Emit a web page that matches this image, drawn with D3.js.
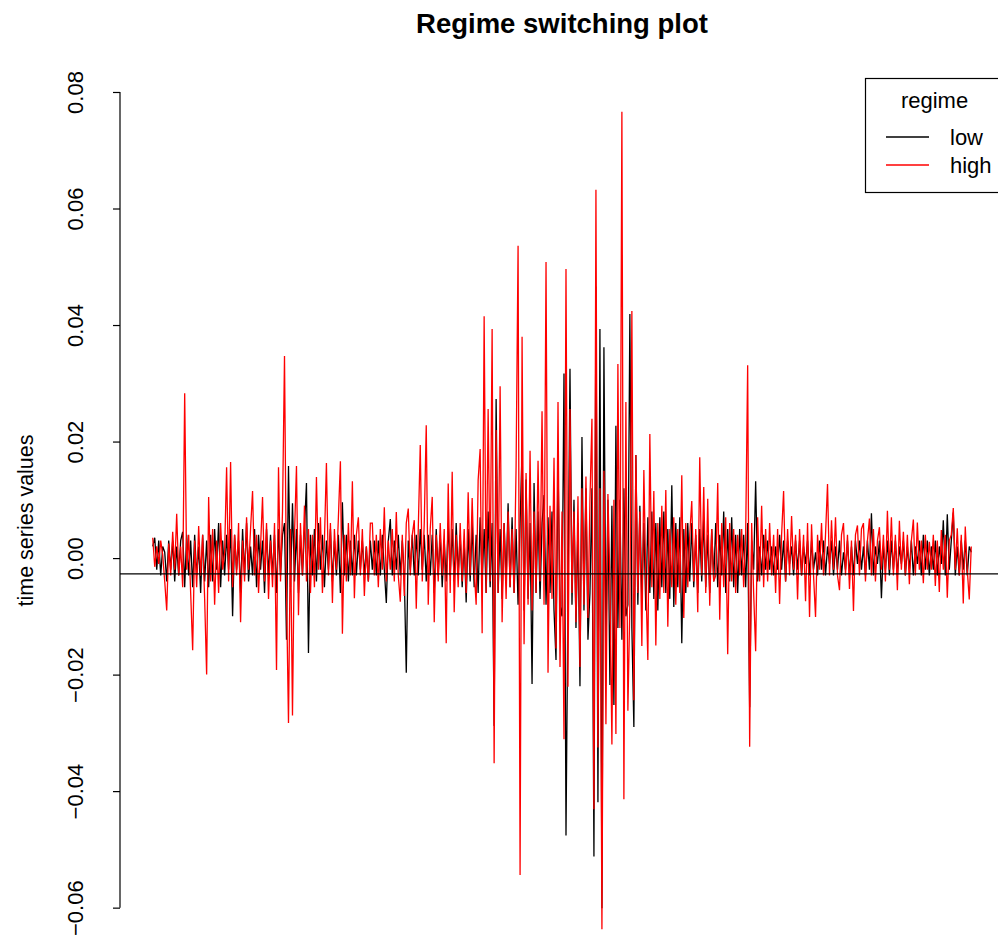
<!DOCTYPE html>
<html>
<head>
<meta charset="utf-8">
<script src="https://cdn.jsdelivr.net/npm/d3@7"></script>
<style>
  html, body { margin: 0; padding: 0; background: #fff; }
  svg { display: block; font-family: "Liberation Sans", Arial, Helvetica, sans-serif; }
</style>
</head>
<body>
<svg id="chart" width="998" height="940"></svg>
<script>
// ---- data ----
const titleText = "Regime switching plot";
const yLabel = "time series values";
const legendTitle = "regime";
const seriesNames = ["low", "high"];
const seriesColors = ["#000000", "#ff0000"];
const yTicks = [-0.06, -0.04, -0.02, 0.00, 0.02, 0.04, 0.06, 0.08];
const hLineValue = -0.0027;

// "high" regime series (red)
const high = [
 .0035,-.0015,.002,-.001,.003,.0005,-.004,-.009,.0025,-.003,
 .0045,-.002,.0076,-.003,.002,-.005,.0283,-.002,.004,-.006,
 -.0158,.003,-.005,.0055,-.003,.004,-.007,-.020,.0105,-.004,
 .005,-.008,.003,-.006,.006,-.002,.001,.0156,-.004,.0165,
 -.005,.004,-.003,.006,-.011,.003,-.004,.007,-.002,.005,
 .0115,-.003,.004,-.006,.002,.0105,-.004,.006,-.007,.003,
 -.005,.006,-.0192,.0156,-.004,.008,.0347,-.006,-.0283,.005,
 -.027,.004,.0158,-.0098,.006,-.003,.009,-.004,.005,-.006,
 .004,-.005,.0139,-.002,.007,-.006,.003,.0163,-.003,.006,
 -.0077,.005,-.002,.007,.0166,-.013,.004,-.004,.006,-.003,
 .0132,-.0069,.004,.007,-.003,.005,-.0065,.002,-.004,.006,
 .006,-.003,.004,-.005,.005,-.002,.0087,-.004,.003,-.002,
 .005,-.004,.0079,-.003,-.0075,.004,-.0065,.006,.0085,-.003,
 .004,.0065,-.0087,.005,.0194,-.004,.006,.0228,-.008,.005,
 .0105,-.011,.004,-.004,.006,-.003,.005,-.0146,.0128,-.006,
 .0148,-.0093,.004,-.005,.006,-.004,.005,-.006,.0113,-.003,
 .0103,-.002,-.008,.0134,.0187,-.0129,.0415,-.006,.0256,-.004,
 .0393,-.0352,.022,-.006,.0295,-.011,.006,-.007,.008,-.005,
 .005,-.006,.0156,.0536,-.0544,.038,-.0148,.0146,-.008,.0184,
 -.009,.008,-.006,.0167,-.004,.0252,-.008,.0508,-.0197,.009,
 -.007,.0172,-.0155,.0268,-.0187,.008,-.0311,.0496,-.0221,.0256,
 -.006,.008,-.011,.0106,-.0187,.012,-.008,.014,-.0103,.010,
 .0239,-.0431,.0632,-.0325,.012,-.0637,.015,-.0285,.011,-.004,
 -.032,.010,-.0302,.0333,-.012,.0766,-.0414,.0268,-.0262,-.008,
 .0424,-.0244,.0177,-.006,.008,-.0151,.0151,-.004,-.0175,.0213,
 -.005,.0115,-.015,.006,-.007,.009,-.006,.0117,-.0118,.005,
 -.005,.007,-.008,.005,-.006,.0142,-.0103,.006,-.005,.004,
 .0098,-.004,.005,-.0093,.0173,-.003,.0122,-.006,.0102,-.0082,
 .005,-.004,-.003,.0129,-.0106,.006,-.005,.007,-.0165,.006,
 -.004,.005,-.006,.004,-.003,.005,-.005,.004,.0331,-.0324,
 .006,-.006,-.016,.007,-.004,.009,-.005,.005,-.004,.006,
 -.003,.004,-.006,.005,-.0079,.004,.0115,-.004,.005,-.003,
 .0072,-.002,.004,-.0071,.005,-.003,.004,-.0074,.006,-.0101,
 .0058,-.003,-.0101,.004,-.002,.006,-.003,.004,.0127,-.003,
 .0065,-.002,.007,-.003,-.0055,.004,.006,-.003,.004,-.0053,
 .003,-.0091,.004,.0056,-.003,.005,.006,-.004,.003,.0068,
 -.003,.005,-.004,.003,.0053,-.002,.004,-.004,.0081,-.002,
 .007,-.003,.004,-.0055,.0064,-.002,.0045,-.003,.004,-.0045,
 .003,.0066,-.003,.0061,-.002,.003,-.0043,.004,-.002,.0028,
 -.002,.004,-.0048,.003,-.0058,.0048,-.002,.004,-.0068,.003,
 .004,.0086,-.002,.0051,-.003,.004,-.0078,.0054,-.002,-.0071,.002
];

// "low" regime series (black)
const low = [
 .002,.0035,-.002,.003,-.003,.002,.001,-.004,.003,-.002,
 .003,-.004,.002,-.003,.003,.0045,-.005,.004,-.003,.003,
 -.005,.004,-.003,.002,-.006,.004,-.004,.003,-.005,.004,
 -.004,.005,-.002,.006,-.005,.003,-.003,.004,-.002,.005,
 -.010,.004,-.002,.003,-.006,.005,-.003,.006,-.004,.002,
 -.003,.005,-.005,.004,-.002,.003,-.006,.005,-.003,.004,
 -.003,.004,-.006,.005,-.003,.004,.006,-.014,.0158,-.005,
 .0094,-.004,.005,-.006,.004,-.003,.005,.0129,-.0163,.004,
 -.003,.005,-.004,.006,-.002,.004,-.005,.003,-.002,.005,
 -.004,.003,-.003,.004,-.006,.0096,-.003,.004,-.004,.003,
 -.003,.004,-.003,.003,-.002,.003,-.003,.002,-.004,.003,
 -.002,.003,-.003,.003,-.003,.004,-.002,-.0077,.003,.0067,
 -.003,.003,-.002,.004,-.003,.003,-.003,-.0197,.003,-.002,
 .004,-.003,.004,-.003,.005,-.002,.004,-.004,.004,-.003,
 .004,-.006,.005,-.003,.004,-.005,.003,-.004,.006,-.003,
 .005,-.004,.006,-.003,.004,-.005,.003,-.0076,.005,-.004,
 .006,-.005,.004,-.006,.007,-.004,.005,-.006,.008,-.005,
 .006,-.0288,.0273,-.006,.005,-.007,.006,-.004,.0094,-.005,
 .007,-.006,.005,-.008,.006,.0184,-.009,.0135,-.007,.006,
 -.0216,.0129,-.006,.008,-.007,.006,.0108,-.008,.007,-.006,
 .008,-.009,-.0175,.0161,-.008,-.010,.0317,-.0476,-.006,.0325,
 -.008,.010,-.012,.006,-.022,.0208,-.009,.012,-.014,-.006,
 .012,-.0512,.0466,-.0419,.0393,-.0601,.0362,-.015,.010,-.0218,
 .009,-.0252,.0227,-.012,.010,-.014,.012,-.010,-.008,.0419,
 -.012,-.029,.0177,-.008,.009,-.007,.006,-.009,.007,-.006,
 .008,-.007,.006,-.009,.007,-.005,.008,-.006,.005,-.007,
 .0125,-.0084,.006,-.005,.007,-.0146,.005,-.006,.006,-.004,
 .006,-.005,.004,-.006,.005,-.004,.007,-.005,.004,-.006,
 .005,-.004,.006,-.005,.004,-.003,.008,-.006,.005,-.004,
 .007,-.005,.004,-.006,.005,-.003,.004,-.005,.006,-.0256,
 .003,-.002,.0132,-.004,.002,-.003,.004,-.002,.003,-.002,
 .002,-.003,.002,-.002,.004,-.002,.003,-.004,.003,-.001,
 .002,-.003,.003,-.002,.003,-.003,.002,-.001,.003,-.003,
 .003,-.002,.001,-.003,.003,-.002,.003,-.003,.002,-.001,
 .003,-.003,.002,-.002,.003,-.003,.001,-.002,.003,-.003,
 .002,-.003,.003,-.001,.003,-.002,.002,-.003,.003,-.002,
 .0077,-.003,.002,-.001,.003,-.0069,.002,-.002,.003,-.003,
 .003,-.002,.003,-.003,.002,-.001,.003,-.003,.002,-.002,
 .003,-.003,.002,-.001,.003,-.003,.004,-.002,.003,-.003,
 .002,-.002,.003,-.003,.002,-.001,.0065,-.003,.0075,-.002,
 .003,.0078,-.003,.002,-.003,.003,-.002,.003,-.003,.002,.001
];

// ---- layout ----
const svg = d3.select("#chart");
const plot = { left: 120, right: 1004, top: 78, bottom: 963 };
const baseFont = 22;

const N = high.length;
const pad = 0.04 * (N - 1);
const x = d3.scaleLinear()
  .domain([1 - pad, N + pad])
  .range([plot.left, plot.right]);
const y = d3.scaleLinear()
  .domain([-0.0695, 0.0824])
  .range([plot.bottom, plot.top]);

const line = d3.line()
  .x((d, i) => x(i + 1))
  .y(d => y(d));

const g = svg.append("g");

// series: low (black) first, then high (red) on top
[low, high].forEach((s, k) => {
  g.append("path")
    .datum(s)
    .attr("fill", "none")
    .attr("stroke", seriesColors[k])
    .attr("stroke-width", 1.3)
    .attr("stroke-linejoin", "miter")
    .attr("d", line);
});

// horizontal reference line
g.append("line")
  .attr("x1", plot.left).attr("x2", plot.right)
  .attr("y1", y(hLineValue)).attr("y2", y(hLineValue))
  .attr("stroke", "#000").attr("stroke-width", 1.3);

// y axis
const axis = d3.axisLeft(y)
  .tickValues(yTicks)
  .tickSize(7)
  .tickFormat(d3.format(".2f"));
const ax = svg.append("g")
  .attr("transform", `translate(${plot.left},0)`)
  .call(axis);
ax.select(".domain").remove();
ax.selectAll(".tick line").attr("stroke", "#000").attr("stroke-width", 1.2);
ax.append("line")
  .attr("x1", 0).attr("x2", 0)
  .attr("y1", y(yTicks[0])).attr("y2", y(yTicks[yTicks.length - 1]))
  .attr("stroke", "#000").attr("stroke-width", 1.2);
ax.selectAll(".tick text")
  .attr("transform", "rotate(-90)")
  .attr("x", 0)
  .attr("y", -37)
  .attr("dy", null)
  .attr("text-anchor", "middle")
  .attr("fill", "#000")
  .style("font-size", baseFont + "px")
  .style("font-family", '"Liberation Sans", Arial, sans-serif');

// y label
svg.append("text")
  .attr("transform", `translate(33,${(plot.top + plot.bottom) / 2}) rotate(-90)`)
  .attr("text-anchor", "middle")
  .style("font-size", "21.5px")
  .text(yLabel);

// title
svg.append("text")
  .attr("x", (plot.left + plot.right) / 2)
  .attr("y", 33)
  .attr("text-anchor", "middle")
  .style("font-size", "27.5px")
  .style("font-weight", "bold")
  .text(titleText);

// legend
const leg = svg.append("g");
leg.append("rect")
  .attr("x", 865.5).attr("y", 78.5)
  .attr("width", plot.right - 865.5).attr("height", 114)
  .attr("fill", "#fff").attr("stroke", "#000").attr("stroke-width", 1.2);
leg.append("text")
  .attr("x", (865 + plot.right) / 2).attr("y", 108)
  .attr("text-anchor", "middle")
  .style("font-size", baseFont + "px")
  .text(legendTitle);
seriesNames.forEach((name, k) => {
  const ly = 137 + k * 28;
  leg.append("line")
    .attr("x1", 886).attr("x2", 929)
    .attr("y1", ly).attr("y2", ly)
    .attr("stroke", seriesColors[k]).attr("stroke-width", 1.3);
  leg.append("text")
    .attr("x", 950).attr("y", ly + 8)
    .style("font-size", baseFont + "px")
    .text(name);
});
</script>
</body>
</html>
